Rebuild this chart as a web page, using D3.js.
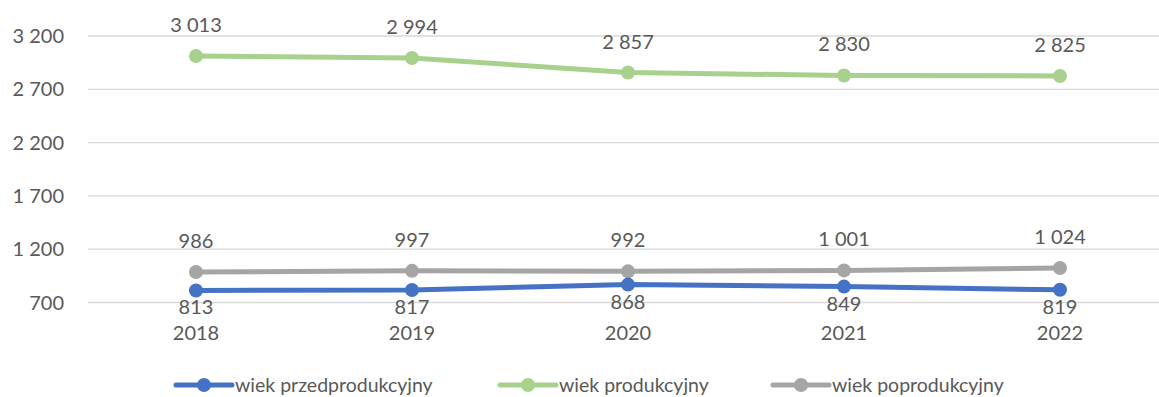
<!DOCTYPE html>
<html>
<head>
<meta charset="utf-8">
<script src="https://cdn.jsdelivr.net/npm/d3@7"></script>
<style>
  html, body { margin: 0; padding: 0; background: #fff; }
  svg text { font-family: Lato, "Open Sans", sans-serif; font-weight: 400; fill: #595959; }
</style>
</head>
<body>
<svg id="chart" width="1159" height="397"></svg>
<script>
// Population by economic age group, 2018–2022
const years = ["2018", "2019", "2020", "2021", "2022"];
const preWorking = [813, 817, 868, 849, 819];
const working = [3013, 2994, 2857, 2830, 2825];
const postWorking = [986, 997, 992, 1001, 1024];
const seriesNames = ["wiek przedprodukcyjny", "wiek produkcyjny", "wiek poprodukcyjny"];
const yTicks = [700, 1200, 1700, 2200, 2700, 3200];

const series = [
  { name: seriesNames[0], values: preWorking, color: "#4472C4", labelPos: "below" },
  { name: seriesNames[1], values: working, color: "#A9D18E", labelPos: "above" },
  { name: seriesNames[2], values: postWorking, color: "#A5A5A5", labelPos: "above" }
];

const fmt = d3.formatLocale({ decimal: ",", thousands: " ", grouping: [3], currency: ["", " zł"] }).format(",d");

const svg = d3.select("#chart");
const plot = { left: 88, right: 1168, top: 36, bottom: 302.5 };

const x = d3.scaleBand().domain(years).range([plot.left, plot.right]);
const y = d3.scaleLinear().domain([700, 3200]).range([plot.bottom, plot.top]);
const cx = d => x(d) + x.bandwidth() / 2;

// horizontal gridlines
svg.append("g").selectAll("line").data(yTicks).join("line")
  .attr("x1", plot.left).attr("x2", plot.right)
  .attr("y1", d => y(d)).attr("y2", d => y(d))
  .attr("stroke", "#D9D9D9").attr("stroke-width", 1.3);

// y-axis labels
svg.append("g").selectAll("text").data(yTicks).join("text")
  .attr("x", 64).attr("y", d => y(d))
  .attr("dy", "0.35em").attr("text-anchor", "end")
  .style("font-size", "20px")
  .text(d => fmt(d));

// x-axis labels
svg.append("g").selectAll("text").data(years).join("text")
  .attr("x", d => cx(d)).attr("y", 333)
  .attr("dy", "0.35em").attr("text-anchor", "middle")
  .style("font-size", "20px")
  .text(d => d);

const line = d3.line().x((v, i) => cx(years[i])).y(v => y(v));

// draw grey, green, then blue on top
const drawOrder = [series[2], series[1], series[0]];
drawOrder.forEach(s => {
  const g = svg.append("g");
  g.append("path").datum(s.values)
    .attr("d", line).attr("fill", "none")
    .attr("stroke", s.color).attr("stroke-width", 5).attr("stroke-linecap", "round");
  g.selectAll("circle").data(s.values).join("circle")
    .attr("cx", (v, i) => cx(years[i])).attr("cy", v => y(v))
    .attr("r", 7).attr("fill", s.color);
});

// data labels
series.forEach(s => {
  svg.append("g").selectAll("text").data(s.values).join("text")
    .attr("x", (v, i) => cx(years[i]))
    .attr("y", v => s.labelPos === "above" ? y(v) - 31 : y(v) + 17)
    .attr("dy", "0.35em").attr("text-anchor", "middle")
    .style("font-size", "20px")
    .text(v => fmt(v));
});

// legend
const legendItems = [
  { s: series[0], x: 176 },
  { s: series[1], x: 500 },
  { s: series[2], x: 773 }
];
const ly = 385;
legendItems.forEach(it => {
  const g = svg.append("g");
  g.append("line").attr("x1", it.x).attr("x2", it.x + 56)
    .attr("y1", ly).attr("y2", ly)
    .attr("stroke", it.s.color).attr("stroke-width", 5).attr("stroke-linecap", "round");
  g.append("circle").attr("cx", it.x + 28).attr("cy", ly).attr("r", 7).attr("fill", it.s.color);
  g.append("text").attr("x", it.x + 59).attr("y", ly)
    .attr("dy", "0.35em").style("font-size", "19.5px")
    .text(it.s.name);
});
</script>
</body>
</html>
